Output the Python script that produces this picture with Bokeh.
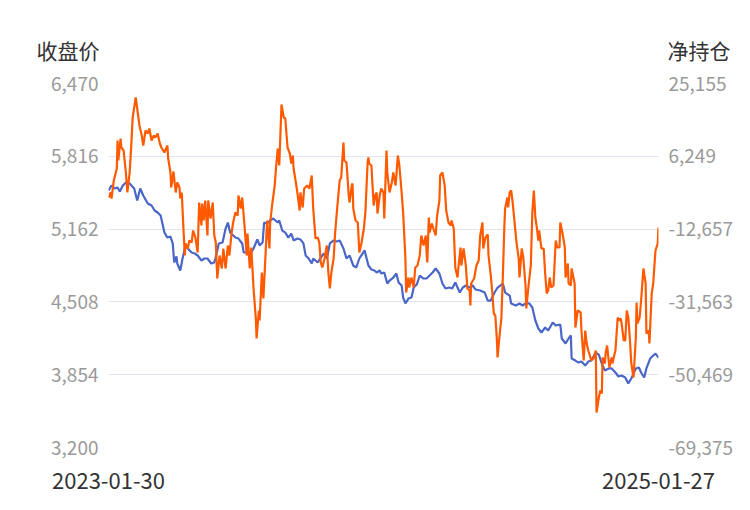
import pandas as pd
from bokeh.plotting import figure
from bokeh.models import (Range1d, LinearAxis, FixedTicker, NumeralTickFormatter,
                          DatetimeTickFormatter, Label)
from bokeh.embed import file_html
from bokeh.resources import INLINE

# ---------------- data ----------------
start_date = "2023-01-30"
end_date = "2025-01-27"

# calendar-day offsets from start_date, and close price (收盘价)
price_days = [0, 4, 8, 12, 15, 19, 23, 28, 34, 38,
              42, 46, 52, 57, 61, 65, 69, 74, 78, 82,
              85, 87, 90, 91, 95, 98, 102, 105, 110, 114,
              118, 123, 127, 131, 136, 140, 142, 146, 151, 155,
              158, 161, 168, 172, 177, 179, 184, 188, 192, 197,
              200, 204, 206, 210, 214, 218, 224, 226, 230, 234,
              238, 242, 245, 250, 254, 258, 261, 265, 269, 271,
              277, 281, 285, 289, 293, 298, 302, 306, 311, 315,
              319, 324, 328, 332, 339, 344, 348, 352, 355, 359,
              361, 365, 369, 372, 377, 381, 384, 388, 390, 393,
              397, 401, 404, 408, 412, 417, 421, 425, 429, 433,
              438, 442, 446, 451, 455, 459, 465, 469, 473, 478,
              482, 486, 492, 498, 502, 506, 511, 515, 522, 525,
              531, 533, 539, 544, 548, 552, 557, 561, 565, 569,
              573, 578, 582, 588, 592, 598, 600, 605, 609, 612,
              613, 618, 622, 626, 631, 635, 639, 645, 649, 653,
              657, 662, 666, 671, 675, 679, 684, 688, 692, 698,
              702, 705, 709, 712, 717, 721, 724, 728]
price = [5509, 5554, 5527, 5536, 5500, 5554, 5581, 5572, 5527, 5419,
         5527, 5464, 5392, 5374, 5329, 5311, 5284, 5131, 5086, 5095,
         5033, 4862, 4916, 4853, 4790, 4898, 5015, 4988, 4952, 4943,
         4925, 4880, 4898, 4898, 4853, 4862, 4910, 5033, 5042, 5167,
         5221, 5131, 5086, 5077, 5033, 4952, 4952, 4943, 4988, 5069,
         5015, 5042, 5221, 5212, 5239, 5257, 5221, 5239, 5149, 5131,
         5086, 5122, 5060, 5077, 5069, 5033, 4925, 4898, 4853, 4898,
         4862, 4907, 4943, 4898, 5033, 5060, 5051, 5060, 4988, 4898,
         4925, 4835, 4817, 4898, 4970, 4835, 4799, 4790, 4772, 4790,
         4763, 4772, 4673, 4700, 4727, 4763, 4682, 4655, 4547, 4494,
         4538, 4547, 4637, 4664, 4745, 4718, 4718, 4745, 4772, 4808,
         4763, 4673, 4628, 4637, 4628, 4682, 4592, 4637, 4655, 4637,
         4655, 4619, 4610, 4592, 4520, 4520, 4592, 4637, 4673, 4592,
         4565, 4494, 4476, 4494, 4476, 4494, 4494, 4458, 4341, 4269,
         4233, 4278, 4251, 4323, 4296, 4305, 4179, 4134, 4179, 4206,
         3999, 3981, 3963, 3972, 3936, 3972, 3981, 4053, 4035, 3954,
         3892, 3910, 3910, 3874, 3838, 3847, 3829, 3775, 3820, 3910,
         3919, 3874, 3829, 3910, 3999, 4026, 4044, 4008]

# calendar-day offsets from start_date, and net position (净持仓)
netpos_days = [0, 3, 4, 7, 11, 12, 13, 16, 17, 20,
               23, 25, 28, 30, 32, 36, 38, 41, 44, 46,
               49, 52, 54, 57, 60, 62, 65, 68, 70, 74,
               78, 79, 82, 83, 86, 89, 91, 94, 95, 97,
               99, 101, 102, 105, 107, 110, 112, 115, 118, 120,
               123, 124, 126, 128, 131, 132, 135, 138, 140, 142,
               144, 147, 150, 152, 155, 158, 160, 163, 165, 168,
               171, 172, 175, 177, 180, 183, 184, 187, 189, 192,
               195, 196, 199, 200, 203, 205, 208, 210, 213, 214,
               217, 220, 222, 224, 226, 229, 232, 234, 237, 240,
               242, 244, 245, 248, 250, 253, 254, 257, 259, 263,
               266, 269, 271, 274, 277, 279, 281, 283, 286, 289,
               291, 293, 295, 298, 300, 303, 306, 308, 311, 312,
               315, 318, 319, 322, 323, 324, 327, 330, 332, 335,
               338, 340, 343, 344, 345, 348, 351, 353, 355, 356,
               359, 361, 364, 365, 368, 369, 372, 375, 377, 380,
               383, 385, 388, 390, 393, 394, 397, 398, 401, 404,
               406, 409, 412, 414, 417, 420, 421, 422, 424, 425,
               428, 430, 433, 435, 438, 439, 442, 445, 447, 450,
               453, 454, 457, 459, 462, 463, 466, 467, 470, 473,
               475, 478, 479, 480, 484, 487, 490, 492, 495, 496,
               499, 502, 503, 506, 508, 510, 512, 514, 515, 518,
               520, 522, 524, 525, 528, 529, 531, 533, 535, 537,
               540, 543, 544, 547, 549, 552, 553, 556, 559, 561,
               563, 565, 567, 569, 570, 573, 576, 578, 580, 582,
               584, 586, 589, 592, 594, 597, 598, 601, 604, 605,
               608, 609, 612, 613, 617, 618, 621, 625, 626, 629,
               631, 633, 635, 638, 639, 642, 645, 646, 649, 651,
               653, 654, 657, 658, 660, 663, 666, 667, 670, 671,
               674, 676, 678, 679, 682, 684, 686, 688, 690, 692,
               695, 698, 699, 700, 703, 705, 708, 711, 712, 715,
               716, 719, 721, 724, 727, 728]
netpos = [-4451, -3152, -4711, -36, 3080, 10352, 5158, 10871, 8534, 7755,
          2042, -3152, 2042, 8534, 16325, 21519, 18662, 14248, 11651, 9054,
          12949, 12170, 13468, 10352, 11651, 11131, 12170, 9573, 8534, 7236,
          9054, 5677, 2042, -1854, 2301, -3152, -555, -1854, -4711, -3152,
          -11722, -19513, -16397, -17696, -15618, -16137, -13021, -14839, -18734, -5749,
          -11722, -6009, -10424, -5230, -14319, -5230, -9905, -5749, -14319, -16137,
          -25487, -19513, -22890, -17696, -22890, -16916, -19513, -13540, -10943, -8346,
          -9125, -3931, -7308, -4451, -11722, -19513, -13800, -22890, -17436, -28084,
          -35875, -41069, -33797, -36394, -23928, -30681, -18734, -10424, -17696, -10943,
          -5749, -1334, 3860, 8274, 3860, 19701, 16325, 16065, 8534, 6976,
          4379, 6457, 3080, -555, -3152, -7827, -3152, -7048, -2114, -1334,
          -2114, 1263, -7308, -15099, -14839, -16137, -21331, -22630, -20293, -16916,
          -23928, -28084, -23928, -20293, -13540, -6528, -36, 743, 9833, 5158,
          4639, -3931, -5749, -1334, -815, -7308, -10424, -10943, -18734, -16137,
          -12502, -8346, 4639, 5937, 4379, 3860, -6528, -3931, -3152, -8606,
          -3931, -2114, -3152, -9905, 7755, 2042, -3152, -555, 2042, -1334,
          6457, 3860, -3152, -8346, -20293, -29122, -25227, -27824, -25227, -27824,
          -22630, -22110, -19513, -14319, -16916, -14319, -18734, -21331, -9645, -13540,
          -11203, -12502, -14319, -9125, -5230, 1263, 2042, -1334, -7827, -10943,
          -11722, -10424, -12502, -22630, -25227, -22890, -17436, -22110, -17696, -22110,
          -28084, -28603, -32498, -26785, -25487, -22110, -20812, -14319, -10943, -17696,
          -14839, -14060, -19513, -24707, -29122, -34576, -35095, -41069, -46003, -39510,
          -35875, -24707, -11722, -7308, -4451, -7048, -3152, -2633, -5749, -9905,
          -16137, -20293, -25227, -17696, -20033, -27304, -33278, -27304, -22110, -8346,
          -2633, -9645, -12242, -15618, -13021, -17696, -17696, -24188, -29382, -28603,
          -25227, -27824, -27304, -15618, -17436, -17436, -10943, -13800, -17436, -25227,
          -21591, -26785, -27304, -22890, -26785, -38212, -33797, -34316, -38991, -46782,
          -38991, -42367, -44185, -46003, -46782, -46263, -44185, -60286, -56391, -54573,
          -55352, -46003, -47561, -44964, -42886, -48600, -46003, -47561, -44964, -44185,
          -35615, -36394, -35875, -36913, -41588, -41588, -33797, -35615, -40809, -47561,
          -51197, -40809, -31719, -37173, -35615, -31200, -22890, -26785, -39770, -38991,
          -42367, -29382, -26785, -18215, -16397, -12242]

price_ticks = [3200, 3854, 4508, 5162, 5816, 6470]
netpos_ticks = [-69375, -50469, -31563, -12657, 6249, 25155]
left_title = "收盘价"
right_title = "净持仓"

# ---------------- build ----------------
start = pd.Timestamp(start_date)
price_x = start + pd.to_timedelta(price_days, unit="D")
netpos_x = start + pd.to_timedelta(netpos_days, unit="D")

x0 = pd.Timestamp(start_date).value / 1e6
x1 = pd.Timestamp(end_date).value / 1e6

FONT = "Noto Sans CJK SC"

p = figure(width=750, height=510, x_axis_type="datetime",
           output_backend="svg", toolbar_location=None,
           x_range=Range1d(x0, x1),
           y_range=Range1d(price_ticks[0], price_ticks[-1]),
           min_border_left=108, min_border_right=92,
           min_border_top=83, min_border_bottom=63)
p.outline_line_color = None
p.background_fill_color = "white"
p.border_fill_color = "white"

p.extra_y_ranges = {"net": Range1d(netpos_ticks[0], netpos_ticks[-1])}
right_axis = LinearAxis(y_range_name="net")
p.add_layout(right_axis, "right")

# grid
p.xgrid.grid_line_color = None
p.ygrid.grid_line_color = "#e0e6f1"
p.ygrid.grid_line_width = 1

# y axes
la = p.yaxis[0]
la.ticker = FixedTicker(ticks=price_ticks)
la.formatter = NumeralTickFormatter(format="0,0")
right_axis.ticker = FixedTicker(ticks=netpos_ticks)
right_axis.formatter = NumeralTickFormatter(format="0,0")
for ax in (la, right_axis):
    ax.axis_line_color = None
    ax.major_tick_line_color = None
    ax.minor_tick_line_color = None
    ax.major_label_text_color = "#9a9a9a"
    ax.major_label_text_font = FONT
    ax.major_label_text_font_size = "19px"
    ax.major_label_standoff = 4

# bottom axis
xa = p.xaxis[0]
xa.ticker = FixedTicker(ticks=[x0, x1])
fmt = "%Y-%m-%d"
xa.formatter = DatetimeTickFormatter(milliseconds=fmt, seconds=fmt, minsec=fmt, minutes=fmt,
                                     hourmin=fmt, hours=fmt, days=fmt, months=fmt, years=fmt)
xa.axis_line_color = None
xa.major_tick_line_color = None
xa.minor_tick_line_color = None
xa.major_label_text_color = "#333333"
xa.major_label_text_font = FONT
xa.major_label_text_font_size = "22px"
xa.major_label_standoff = 19

# lines
p.line(price_x, price, line_color="#4a66c8", line_width=2.2)
p.line(netpos_x, netpos, line_color="#ff5a00", line_width=2.2, y_range_name="net")

# axis titles, anchored at the top corners of the plot area
p.add_layout(Label(x=x0, y=price_ticks[-1], x_offset=-9, y_offset=34, text=left_title,
                   text_align="right", text_baseline="middle", text_font=FONT,
                   text_font_size="21px", text_color="#333333"), "above")
p.add_layout(Label(x=x1, y=price_ticks[-1], x_offset=9, y_offset=34, text=right_title,
                   text_align="left", text_baseline="middle", text_font=FONT,
                   text_font_size="21px", text_color="#333333"), "above")

open("out.html", "w").write(file_html(p, INLINE))
